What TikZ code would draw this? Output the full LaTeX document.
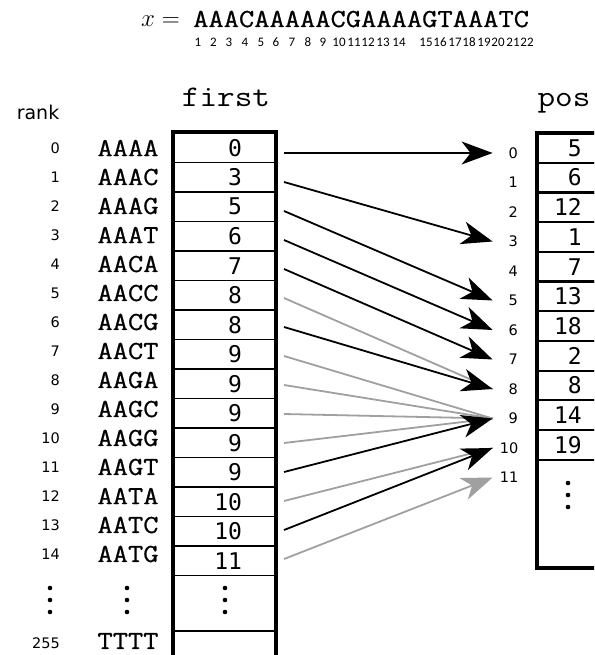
\documentclass[tikz,border=0pt]{standalone}
\usepackage{fontspec}
\setsansfont{DejaVu Sans}
\newfontfamily\kmerfont{Latin Modern Mono}[FakeStretch=1.14, FakeBold=0.8]
\newfontfamily\headfont{Latin Modern Mono}[FakeStretch=1.14]
\newfontfamily\cellfont{DejaVu Sans Mono}
\newfontfamily\idxfont{Carlito}
\usetikzlibrary{arrows.meta, positioning}

\definecolor{ptrgray}{RGB}{160,160,160}

\tikzset{
  cell/.style={draw, line width=1.8pt, minimum width=101pt, minimum height=29.5pt,
    text width=35pt, align=right, inner xsep=33pt, inner ysep=0pt,
    font=\cellfont\fontsize{23}{23}\selectfont},
  posval/.style={anchor=east, inner sep=0pt, font=\cellfont\fontsize{23}{23}\selectfont},
  kmer/.style={inner sep=0pt, font=\kmerfont\fontsize{26}{26}\selectfont},
  head/.style={anchor=base, inner sep=0pt, font=\headfont\fontsize{30}{30}\selectfont},
  rk/.style={anchor=east, inner sep=0pt, font=\sffamily\fontsize{14.5}{14.5}\selectfont},
  plabel/.style={rk, text width=18pt, align=right},
  idx/.style={inner sep=0pt, anchor=base, font=\idxfont\fontsize{13}{13}\selectfont},
  ptr/.style={line width=1.8pt, -{Stealth[length=31pt, width=23pt, inset=9pt]}},
  ptrlight/.style={line width=1.8pt, draw=ptrgray},
  vdots/.pic={\foreach \k in {-1,0,1} \fill (0,\k*12) circle (2.3pt);}
}

\begin{document}
\begin{tikzpicture}[x=1pt, y=-1pt]
    \useasboundingbox (0,0) rectangle (594,655);
    \clip (0,0) rectangle (594,655);

    % the string %
      \node[anchor=base east, inner sep=0pt, font=\fontsize{24}{24}\selectfont] (eq) at (180,27) {$x =$};
      \node[anchor=base west, kmer] (seq) at (193,27) {AAACAAAAACGAAAAGTAAATC};
      \foreach \n/\px in {1/198, 2/213.5, 3/229, 4/245, 5/261, 6/276, 7/292, 8/308, 9/323, 10/339, 11/354,
                          12/368, 13/383, 14/399, 15/426, 16/440, 17/455, 18/469, 19/484, 20/498, 21/513, 22/527}
        \node[idx] (i\n) at (\px,47) {\n};

    % headers %
      \node[anchor=base, inner sep=0pt, font=\sffamily\fontsize{19}{19}\selectfont] (rank) at (38,120) {rank};
      \node[head] (first) at (226,107) {first};
      \node[head] (pos) at (564,107) {pos};

    % first table %
      \foreach \v [count=\i from 0] in {0,3,5,6,7,8,8,9,9,9,9,9,10,10,11}
        \node[cell] (f\i) at (224.5, 147.75+29.5*\i) {\v};
      \node[cell, minimum height=55.5pt] (fdots) at (224.5,603.25) {};
      \node[cell, minimum height=60pt] (f255) at (224.5,661) {};
      \draw[line width=3.5pt] (f0.north west) rectangle (f255.south east);
      \pic at (225,600) {vdots};

    % ranks and 4-mers %
      \foreach \k [count=\i from 0] in {AAAA,AAAC,AAAG,AAAT,AACA,AACC,AACG,AACT,AAGA,AAGC,AAGG,AAGT,AATA,AATC,AATG} {
        \node[rk] (r\i) at (60, 148+29*\i) {\i};
        \node[kmer] (k\i) at (128, 148+29*\i) {\k};
        \coordinate (s\i) at (284, 153+29*\i);
      }
      \pic at (50,600) {vdots};
      \pic at (127,600) {vdots};
      \node[rk] (r255) at (60,643) {255};
      \node[kmer] (k255) at (128,641) {TTTT};

    % pos table %
      \foreach \v [count=\j from 0] in {5,6,12,1,7,13,18,2,8,14,19} {
        \draw[line width=2.2pt] (537, 133+29.7*\j) rectangle (640, 162.7+29.7*\j);
        \node[posval] (p\j) at (582, 147.85+29.7*\j) {\v};
      }
      \draw[line width=3.5pt] (537,133) rectangle (640,568);
      \pic at (568,495) {vdots};
      \foreach \j in {0,...,11}
        \node[plabel] (pl\j) at (518, 153+29.5*\j) {\j};

    % pointers %
      \foreach \i/\j in {5/8, 7/9, 8/9, 9/9, 10/9, 12/10}
        \draw[ptrlight] (s\i) -- ([xshift=-7pt]pl\j.west);
      \draw[ptrlight, -{Stealth[length=31pt, width=23pt, inset=9pt]}] (s14) -- ([xshift=-7pt]pl11.west);
      \foreach \i/\j in {0/0, 1/3, 2/5, 3/6, 4/7, 6/8, 11/9, 13/10}
        \draw[ptr] (s\i) -- ([xshift=-7pt]pl\j.west);
\end{tikzpicture}
\end{document}
